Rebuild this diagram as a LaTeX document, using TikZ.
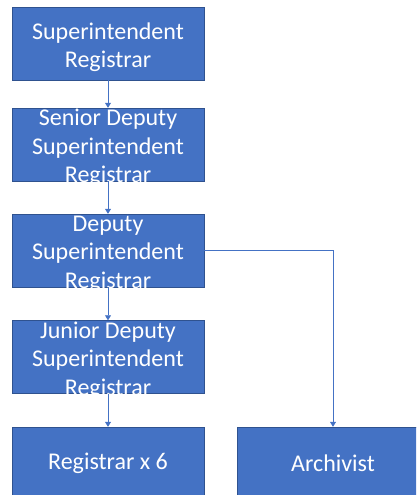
\documentclass[tikz,border=0pt]{standalone}
\usepackage{fontspec}
\setmainfont{Carlito}
\usepackage{tikz}
\usetikzlibrary{arrows.meta}
\definecolor{officeblue}{RGB}{68,114,196}
\definecolor{officeblueline}{RGB}{47,82,143}

\begin{document}
\begin{tikzpicture}[x=1pt, y=1pt,
    post/.style={draw=officeblueline, fill=officeblue, minimum width=192pt, minimum height=73pt, inner sep=0pt},
    posttext/.style={text=white, align=center, font=\fontsize{24}{28.5}\selectfont},
    postlines/.style={posttext, yshift=-3.5pt},
    link/.style={draw=officeblue, line width=0.7pt, -{Triangle[width=6pt,length=5pt]}}]
    \clip (0,0) rectangle (416,495);
    \node[post, label={[postlines]center:{Superintendent\\Registrar}}] (sr) at (108,451.5) {};
    \node[post, label={[postlines]center:{Senior Deputy\\Superintendent\\Registrar}}] (sdsr) at (108,350.5) {};
    \node[post, label={[postlines]center:{Deputy\\Superintendent\\Registrar}}] (dsr) at (108,244.5) {};
    \node[post, label={[postlines]center:{Junior Deputy\\Superintendent\\Registrar}}] (jdsr) at (108,138) {};
    \node[post, label={[posttext]center:{Registrar x 6}}] (reg) at (108,31.5) {};
    \node[post, label={[posttext]center:{Archivist}}] (arch) at (333,31.5) {};
    \draw[link] (sr) -- (sdsr);
    \draw[link] (sdsr) -- (dsr);
    \draw[link] (dsr) -- (jdsr);
    \draw[link] (jdsr) -- (reg);
    \draw[link] (dsr.east) -| (arch.north);
\end{tikzpicture}
\end{document}
